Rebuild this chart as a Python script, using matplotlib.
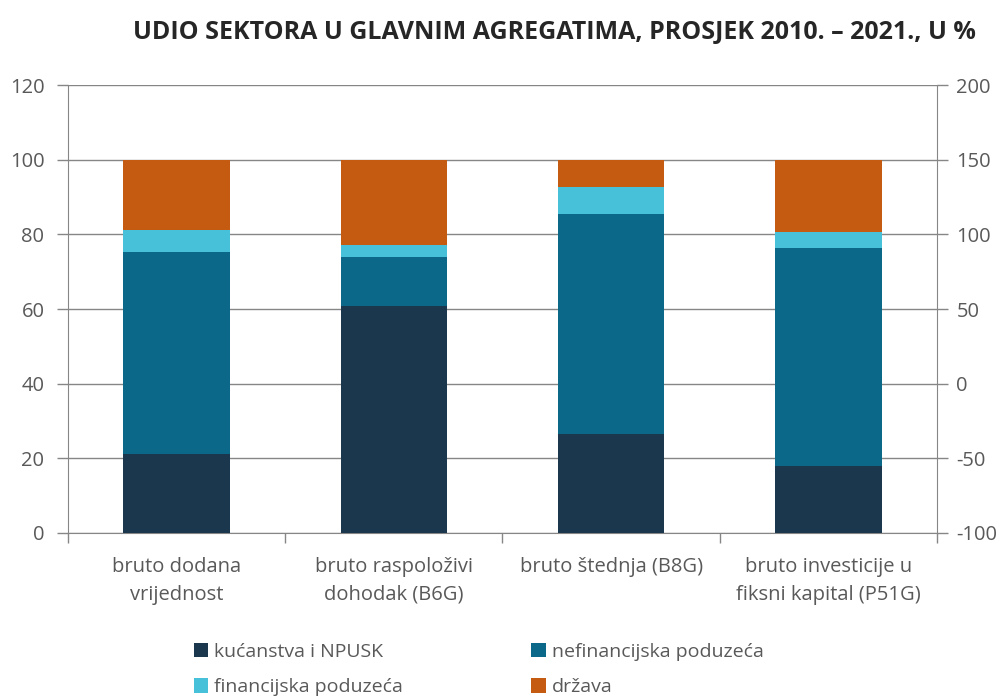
import numpy as np
from matplotlib import pyplot as plt

kategorije = ['bruto dodana\nvrijednost', 'bruto raspoloživi\ndohodak (B6G)',
              'bruto štednja (B8G)', 'bruto investicije u\nfiksni kapital (P51G)']
kucanstva = [21.1, 60.9, 26.5, 17.9]
nefinancijska = [54.3, 12.9, 58.9, 58.5]
financijska = [5.8, 3.3, 7.2, 4.1]
drzava = [18.8, 22.9, 7.4, 19.5]

serije = [
    ('kućanstva i NPUSK', kucanstva, '#1b374d'),
    ('nefinancijska poduzeća', nefinancijska, '#0b6888'),
    ('financijska poduzeća', financijska, '#46c1d9'),
    ('država', drzava, '#c55a11'),
]

plt.rcParams['font.family'] = ['Open Sans', 'DejaVu Sans']
plt.rcParams['axes.unicode_minus'] = False
siva = '#595959'
linija = '#868686'

fig = plt.figure(figsize=(10.06, 6.97), dpi=100)
ax = fig.add_axes([0.0676, 0.2353, 0.8638, 0.6427])

x = np.arange(len(kategorije))
dno = np.zeros(len(kategorije))
stupci = []
for naziv, vrijednosti, boja in serije:
    b = ax.bar(x, vrijednosti, 0.49, bottom=dno, color=boja, label=naziv, zorder=3)
    stupci.append(b)
    dno += np.array(vrijednosti)

ax.set_xlim(-0.5, 3.5)
ax.set_ylim(0, 120)
ax.set_yticks(range(0, 121, 20))
ax.yaxis.grid(True, color=linija, linewidth=1.0, zorder=0)
ax.set_axisbelow(True)

ax.set_xticks(x)
ax.set_xticklabels(kategorije, fontsize=14.5, color=siva, linespacing=1.55)
ax.set_xticks(np.arange(-0.5, 4, 1), minor=True)
ax.tick_params(axis='x', which='major', length=0, pad=17)
ax.tick_params(axis='x', which='minor', length=7, color=linija, width=1)
ax.tick_params(axis='y', labelsize=14.5, colors=siva, length=8, width=1, pad=9)
ax.tick_params(axis='y', color=linija)

for s in ['left', 'bottom']:
    ax.spines[s].set_color(linija)
ax.spines['top'].set_visible(False)
ax.spines['right'].set_visible(False)

ax2 = ax.twinx()
ax2.set_ylim(-100, 200)
ax2.set_yticks(range(-100, 201, 50))
ax2.tick_params(axis='y', labelsize=14.5, colors=siva, length=8, width=1, color=linija, pad=6)
ax2.spines['right'].set_color(linija)
for s in ['top', 'left', 'bottom']:
    ax2.spines[s].set_visible(False)

fig.text(0.551, 0.953, 'UDIO SEKTORA U GLAVNIM AGREGATIMA, PROSJEK 2010. – 2021., U %',
         ha='center', va='center', fontsize=18, fontweight='bold', color='#262626')

# redoslijed po retcima kao u izvorniku
poredak = [0, 2, 1, 3]
fig.legend([stupci[i] for i in poredak], [serije[i][0] for i in poredak],
           loc='lower left', bbox_to_anchor=(0.175, -0.024), ncol=2, frameon=False,
           fontsize=14, labelcolor=siva, handlelength=0.75, handleheight=0.75,
           handletextpad=0.3, columnspacing=6.6, labelspacing=0.9)

plt.savefig('out.png', dpi=100)
